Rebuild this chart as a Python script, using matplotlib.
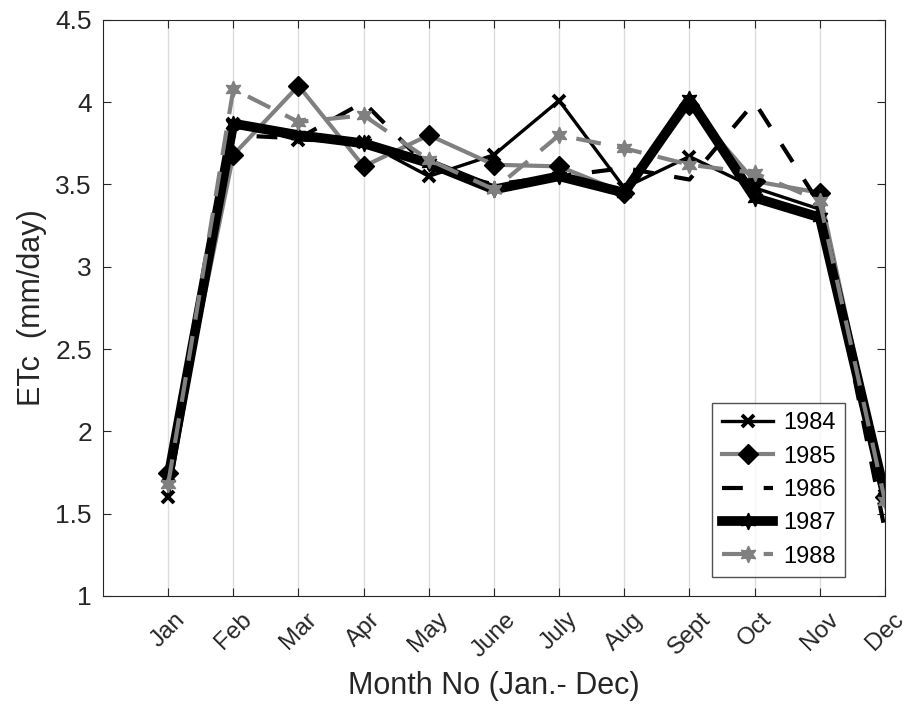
import matplotlib
matplotlib.use("Agg")
import matplotlib.pyplot as plt
import numpy as np

plt.rcParams['font.family'] = ['Liberation Sans', 'DejaVu Sans']

months = ['Jan', 'Feb', 'Mar', 'Apr', 'May', 'June', 'July', 'Aug', 'Sept', 'Oct', 'Nov', 'Dec']
y1984 = [1.60, 3.87, 3.77, 3.76, 3.55, 3.68, 4.01, 3.48, 3.67, 3.48, 3.35, 1.65]
y1985 = [1.75, 3.68, 4.10, 3.61, 3.80, 3.62, 3.61, 3.45, 3.98, 3.52, 3.45, 1.60]
y1986 = [1.70, 3.80, 3.78, 4.00, 3.60, 3.50, 3.55, 3.60, 3.53, 4.00, 3.38, 1.40]
y1987 = [1.72, 3.87, 3.80, 3.75, 3.63, 3.47, 3.55, 3.45, 4.02, 3.42, 3.30, 1.62]
y1988 = [1.68, 4.08, 3.88, 3.92, 3.65, 3.47, 3.80, 3.72, 3.62, 3.57, 3.40, 1.58]
years = ['1984', '1985', '1986', '1987', '1988']

x = np.arange(1, 13)
gray = '#808080'
dark = '#262626'

fig = plt.figure(figsize=(9.07, 7.21), dpi=100)
ax = fig.add_axes([0.1136, 0.1734, 0.862, 0.799])

ax.plot(x, y1984, color='black', lw=2.4, marker='x', ms=9, mew=2.8, label=years[0])
ax.plot(x, y1985, color=gray, lw=3, marker='D', ms=10, mfc='black', mec='black', label=years[1])
ax.plot(x, y1986, color='black', lw=3, ls=(0, (5, 5)), label=years[2])
ax.plot(x, y1987, color='black', lw=7, marker=(6, 1, 0), ms=12, mfc='black', mec='black', label=years[3])
ax.plot(x, y1988, color=gray, lw=3, ls=(0, (6, 4)), marker=(6, 1, 0), ms=12, mfc=gray, mec=gray, label=years[4])

ax.set_xlim(0, 12)
ax.set_ylim(1, 4.5)
ax.set_xticks(x)
ax.set_xticklabels(months, rotation=45, fontsize=17.5)
ax.set_yticks(np.arange(1, 4.51, 0.5))
ax.set_yticklabels(['1', '1.5', '2', '2.5', '3', '3.5', '4', '4.5'], fontsize=19)
ax.tick_params(direction='in', top=True, right=True, length=6, colors=dark)
ax.tick_params(axis='x', pad=9)
ax.tick_params(axis='y', pad=8)
ax.xaxis.grid(True, color='#dcdcdc', lw=1)
ax.set_axisbelow(True)
for s in ax.spines.values():
    s.set_color(dark)

ax.set_xlabel('Month No (Jan.- Dec)', fontsize=22, color=dark, labelpad=7)
ax.set_ylabel('ETc  (mm/day)', fontsize=22, color=dark, labelpad=6)

leg = ax.legend(loc='lower right', bbox_to_anchor=(0.949, 0.033), borderaxespad=0,
                fontsize=17, frameon=True, fancybox=False, edgecolor=dark,
                handlelength=2.2, borderpad=0.4, labelspacing=0.48, handletextpad=0.4)
leg.get_frame().set_linewidth(1.0)

fig.savefig('out.png', dpi=100)
